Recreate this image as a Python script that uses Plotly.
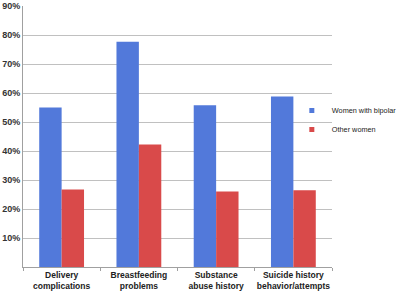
import plotly.graph_objects as go

categories = ["Delivery<br>complications", "Breastfeeding<br>problems", "Substance<br>abuse history", "Suicide history<br>behavior/attempts"]
series_names = ["Women with bipolar", "Other women"]
bipolar = [55, 77.7, 55.8, 58.8]
other = [26.7, 42.2, 26.0, 26.5]
tick_vals = [10, 20, 30, 40, 50, 60, 70, 80, 90]
tick_text = ["10%", "20%", "30%", "40%", "50%", "60%", "70%", "80%", "90%"]
colors = ["#5279da", "#d94a4a"]

fig = go.Figure()
for name, vals, col in zip(series_names, [bipolar, other], colors):
    fig.add_trace(go.Bar(x=categories, y=vals, name=name, showlegend=False,
                         marker=dict(color=col, line=dict(width=0))))
for name, col in zip(series_names, colors):
    fig.add_trace(go.Scatter(x=[None], y=[None], mode="markers", name=name,
                             marker=dict(symbol="square", size=5, color=col)))

fig.update_layout(
    width=400, height=295,
    margin=dict(l=23, r=68, t=6, b=28, autoexpand=False),
    paper_bgcolor="white", plot_bgcolor="white",
    barmode="group", bargap=0.42, bargroupgap=0,
    font=dict(family="Liberation Sans", color="#333333"),
    legend=dict(x=0.87, xanchor="left", y=0.655, yanchor="top",
                font=dict(size=7.3, color="#222222"), itemwidth=30,
                tracegroupgap=0, bgcolor="rgba(0,0,0,0)"),
    xaxis=dict(showline=True, linecolor="#a0a0a0", linewidth=1,
               tickfont=dict(size=8.5, color="#222222", family="Liberation Sans", weight="bold"),
               ticks="outside", tickson="boundaries", ticklen=3, tickcolor="#a0a0a0",
               tickangle=0, showgrid=False),
    yaxis=dict(range=[0, 90], tickvals=tick_vals, ticktext=tick_text,
               showline=True, linecolor="#a0a0a0", linewidth=1,
               showgrid=True, gridcolor="#c0c0c0", gridwidth=1,
               tickfont=dict(size=9, color="#333333", family="Liberation Sans", weight="bold"),
               ticks="", zeroline=False),
)
fig.write_html("out.html")
